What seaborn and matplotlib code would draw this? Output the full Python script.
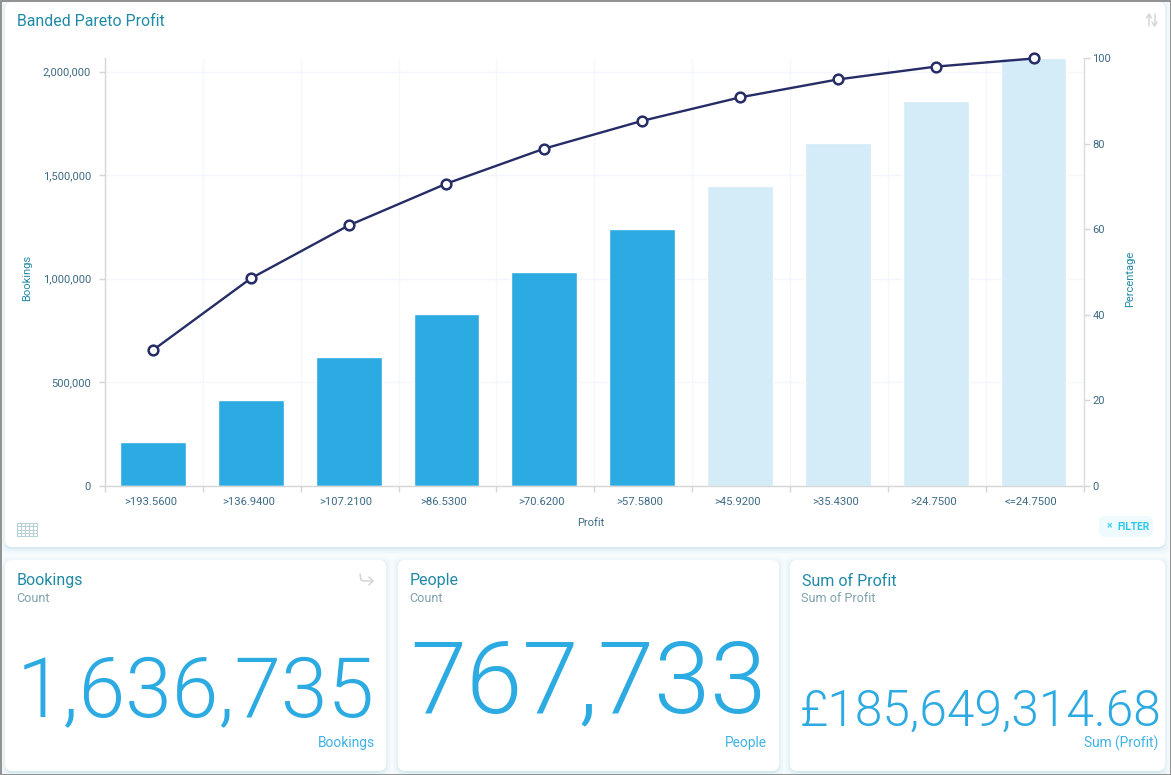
import numpy as np
import pandas as pd
import matplotlib
matplotlib.use('Agg')
import matplotlib.pyplot as plt
import seaborn as sns
from matplotlib.patches import FancyBboxPatch, Rectangle
from matplotlib.ticker import FuncFormatter
from matplotlib.transforms import ScaledTranslation

# data
bands = ['>193.5600', '>136.9400', '>107.2100', '>86.5300', '>70.6200',
         '>57.5800', '>45.9200', '>35.4300', '>24.7500', '<=24.7500']
bookings = [209000, 413000, 620000, 829000, 1031000,
            1238000, 1447000, 1654000, 1858000, 2063000]
percentage = [31.7, 48.5, 60.9, 70.7, 78.9, 85.4, 90.9, 95.1, 98.1, 100]
selected = [True, True, True, True, True, True, False, False, False, False]

kpi_titles = ['Bookings', 'People', 'Sum of Profit']
kpi_subtitles = ['Count', 'Count', 'Sum of Profit']
kpi_values = ['1,636,735', '767,733', '£185,649,314.68']
kpi_units = ['Bookings', 'People', 'Sum (Profit)']

BLUE = '#2caae2'
PALE = '#d3ecf8'
NAVY = '#262c66'
TEAL = '#1f8aa6'
TICK = '#3d6b85'

W, H = 1171, 775

sns.set_theme(style='white')
plt.rcParams['font.family'] = ['Roboto', 'DejaVu Sans']

fig = plt.figure(figsize=(W / 100, H / 100), dpi=100, facecolor='white')


def px_axes(left, top, right, bottom, **kw):
    return fig.add_axes([left / W, 1 - bottom / H, (right - left) / W, (bottom - top) / H], **kw)


# page layer in pixel coordinates: background and cards
bg = fig.add_axes([0, 0, 1, 1], zorder=0)
bg.set_xlim(0, W)
bg.set_ylim(H, 0)
bg.axis('off')
bg.add_patch(Rectangle((0, 0), W, H, fc='#f9fcfd', ec='none'))


def card(x0, y0, x1, y1):
    for grow, col in [(6, '#f5fafc'), (4, '#eff7fa'), (2, '#e6f2f6'), (0, '#d6e9ef')]:
        bg.add_patch(FancyBboxPatch((x0 - grow + 6, y0 - grow + 6 + 2), x1 - x0 + 2 * grow - 12,
                                    y1 - y0 + 2 * grow - 12,
                                    boxstyle='round,pad=6,rounding_size=8', fc=col, ec='none'))
    bg.add_patch(FancyBboxPatch((x0 + 6, y0 + 6), x1 - x0 - 12, y1 - y0 - 12,
                                boxstyle='round,pad=6,rounding_size=7', fc='white', ec='none'))


card(5, 2, 1165, 547)
card(5, 560, 386, 771)
card(398, 560, 779, 771)
card(790, 560, 1165, 771)
bg.add_patch(Rectangle((0.5, 0.5), W - 1, H - 1, fc='none', ec='#7f7f7f', lw=1.2, zorder=5))

# main chart
df = pd.DataFrame({'band': bands, 'bookings': bookings, 'percentage': percentage, 'selected': selected})

ax = px_axes(105, 58.5, 1083.5, 485.5, zorder=2)
ax.patch.set_alpha(0)
sns.barplot(data=df, x='band', y='bookings', hue='selected', hue_order=[True, False],
            palette={True: BLUE, False: PALE}, dodge=False, width=0.672,
            saturation=1, legend=False, ax=ax, zorder=2)
ax.set_xlim(-0.49, 9.51)
ax.set_ylim(0, 2063000)
ax.yaxis.set_major_formatter(FuncFormatter(lambda v, _: f'{int(v):,}'))
ax.set_yticks([0, 500000, 1000000, 1500000, 2000000])
ax.set_xticks(range(len(bands)), bands)
ax.set_xticks(np.arange(-0.49, 10), minor=True)
ax.grid(True, which='major', axis='y', color='#f3f6fb', lw=1, zorder=0)
ax.grid(True, which='minor', axis='x', color='#f3f6fb', lw=1, zorder=0)
ax.set_axisbelow(True)
ax.tick_params(axis='x', which='major', length=0, pad=8, labelsize=8.1, labelcolor=TICK)
ax.tick_params(axis='x', which='minor', length=4, width=1, color='#d6d6d6', bottom=True)
ax.tick_params(axis='y', which='major', length=4, width=1, color='#d6d6d6', left=True,
               pad=6, labelsize=8, labelcolor=TICK)
# category labels sit a little left of the bar centres
shift = ScaledTranslation(-2.5 / 100, 0, fig.dpi_scale_trans)
for lab in ax.get_xticklabels():
    lab.set_transform(lab.get_transform() + shift)
ax.set_xlabel('Profit', fontsize=8, color=TICK, labelpad=8, x=0.496)
ax.set_ylabel('Bookings', fontsize=8, color=TEAL, labelpad=8, y=0.485)
for side in ['top', 'right']:
    ax.spines[side].set_visible(False)
for side in ['left', 'bottom']:
    ax.spines[side].set_color('#d6d6d6')
    ax.spines[side].set_linewidth(1.0)

ax2 = ax.twinx()
ax2.patch.set_alpha(0)
sns.lineplot(data=df, x='band', y='percentage', color=NAVY, lw=1.7, marker='o', markersize=7,
             markerfacecolor='white', markeredgecolor=NAVY, markeredgewidth=1.8,
             sort=False, clip_on=False, ax=ax2)
ax2.set_ylim(0, 100)
ax2.set_yticks([0, 20, 40, 60, 80, 100])
ax2.tick_params(axis='y', length=4, width=1, color='#d6d6d6', right=True, pad=2.5,
                labelsize=8, labelcolor=TICK)
ax2.set_ylabel('Percentage', fontsize=8, color=TEAL, labelpad=10, y=0.483)
for side in ['top', 'left', 'bottom']:
    ax2.spines[side].set_visible(False)
ax2.spines['right'].set_color('#dddddd')
ax2.spines['right'].set_linewidth(1.0)

# overlay for the panel text and icons
top = fig.add_axes([0, 0, 1, 1], zorder=5)
top.set_xlim(0, W)
top.set_ylim(H, 0)
top.axis('off')
top.patch.set_alpha(0)

top.text(17, 21, 'Banded Pareto Profit', fontsize=11.45, color=TEAL, va='center')

# sort icon
top.plot([1149, 1149], [15, 26], color='#d4d6d6', lw=1.1)
top.plot([1146.5, 1149, 1151.5], [18, 14, 18], color='#d4d6d6', lw=1.1)
top.plot([1154.5, 1154.5], [14, 25], color='#d4d6d6', lw=1.1)
top.plot([1152, 1154.5, 1157], [22, 26, 22], color='#d4d6d6', lw=1.1)

# table icon
for yy in np.linspace(523, 536, 5):
    top.plot([17, 37], [yy, yy], color='#b9d0d6', lw=0.8)
for xx in np.linspace(17, 37, 6):
    top.plot([xx, xx], [523, 536], color='#b9d0d6', lw=0.8)

# filter button
top.add_patch(FancyBboxPatch((1103, 520), 46, 13, boxstyle='round,pad=4,rounding_size=6',
                             fc='#effafe', ec='none'))
top.text(1109, 526, '×', fontsize=7.5, color='#3fd0f5', ha='center', va='center', fontweight='bold')
top.text(1117, 526.5, 'FILTER', fontsize=7.3, color='#27c8f2', va='center', fontweight='bold')

# forward icon on the first KPI
top.plot([360, 361, 364, 373], [574, 580, 581, 581], color='#d4d6d6', lw=1.1)
top.plot([369, 373, 369], [577, 581, 585], color='#d4d6d6', lw=1.1)

# KPI cards
title_x = [17, 410, 802]
unit_x = [375, 767, 1158]
value_pos = [(16.5, 717, 60.4), (410, 712, 73), (800, 726, 35.7)]
for i in range(3):
    top.text(title_x[i], 581, kpi_titles[i], fontsize=11.55, color=TEAL, va='center')
    top.text(title_x[i] - 0.7, 599, kpi_subtitles[i], fontsize=9.1, color='#7da3ad', va='center')
    vx, vy, vs = value_pos[i]
    top.text(vx, vy, kpi_values[i], fontsize=vs, color=BLUE, ha='left', va='baseline', fontweight=300)
    top.text(unit_x[i], 743, kpi_units[i], fontsize=9.9, color='#3fb3e6', ha='right', va='center')

fig.savefig('out.png', dpi=100, facecolor='white')
